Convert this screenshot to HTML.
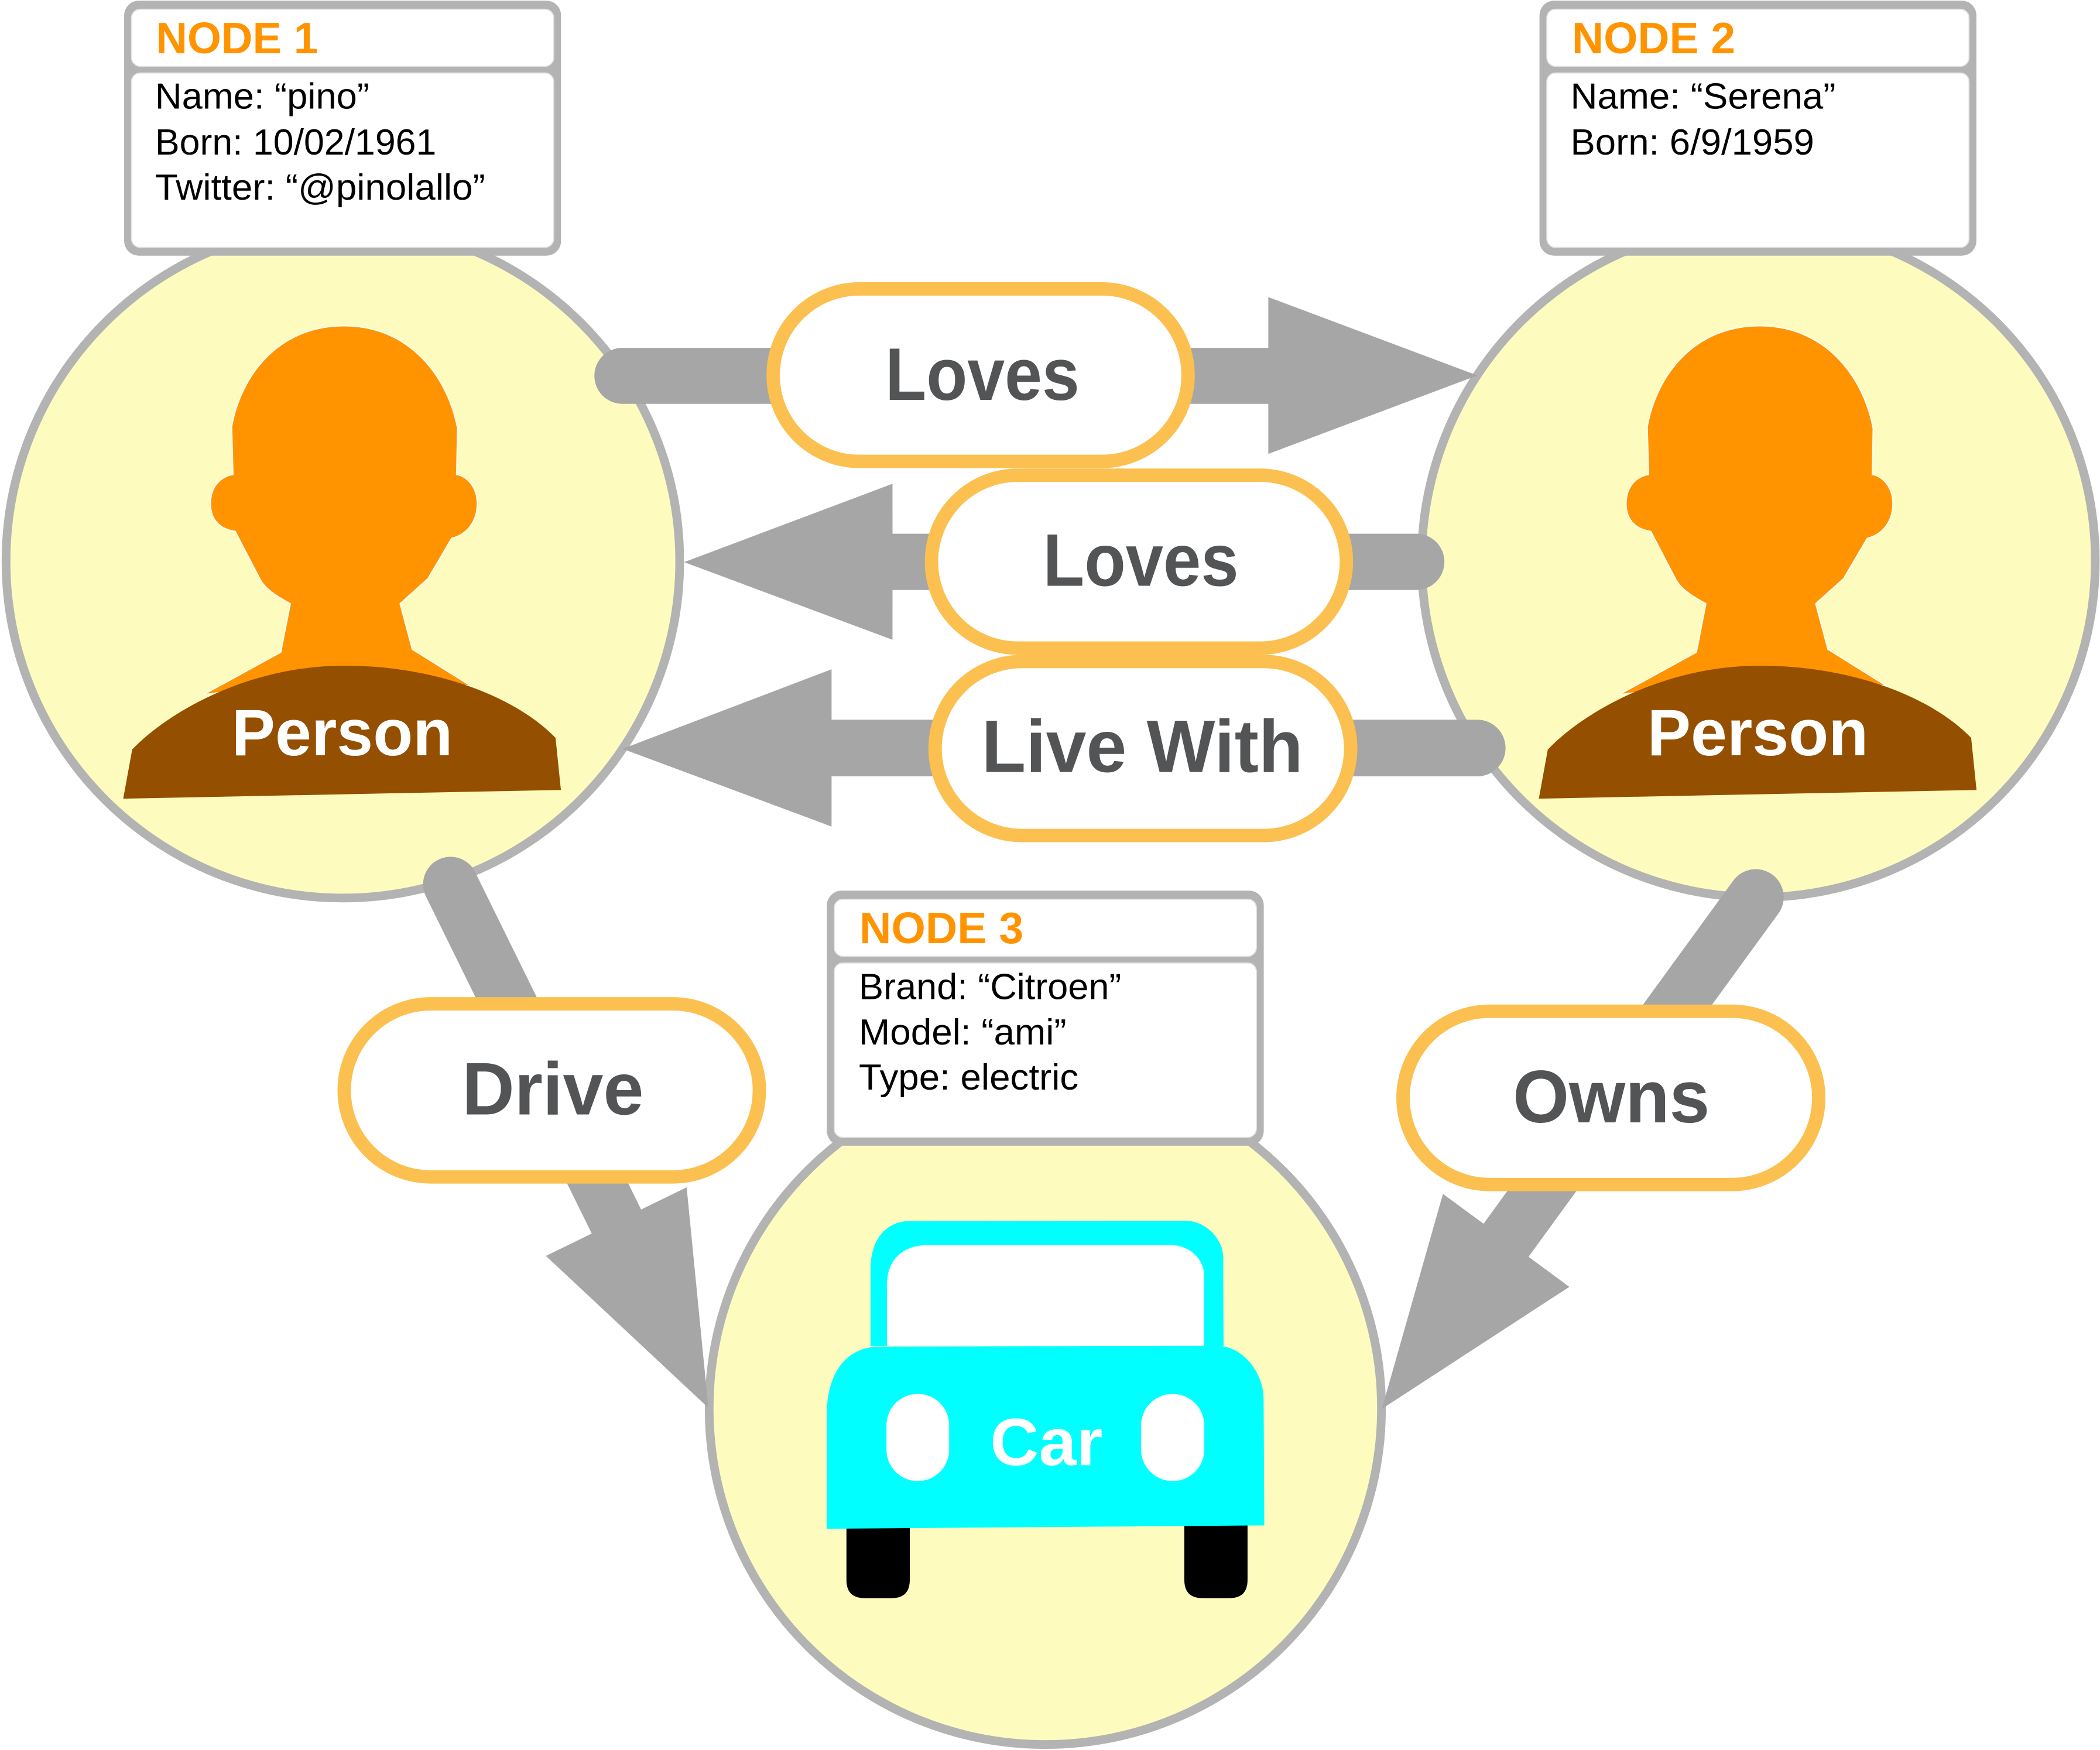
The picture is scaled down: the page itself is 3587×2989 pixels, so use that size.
<!DOCTYPE html>
<html>
<head>
<meta charset="utf-8">
<style>
html,body{margin:0;padding:0;background:#fff;}
svg{display:block;}
text{font-family:"Liberation Sans", Arial, sans-serif;}
</style>
</head>
<body>
<svg xmlns="http://www.w3.org/2000/svg" width="3587" height="2989" viewBox="0 0 1568 1306.6">
  <rect x="0" y="0" width="1568" height="1306.6" fill="#ffffff"/>

  <!-- Circles -->
  <circle cx="256" cy="419" r="251.5" fill="#fdfcbe" stroke="#b3b3b3" stroke-width="6.5"/>
  <circle cx="1313" cy="418.5" r="251.5" fill="#fdfcbe" stroke="#b3b3b3" stroke-width="6.5"/>
  <circle cx="780.5" cy="1051.5" r="251" fill="#fdfcbe" stroke="#b3b3b3" stroke-width="6.5"/>

  <!-- Person 1 -->
  <g id="p1">
    <path d="M173,318.5 C180,280 208,243.3 256.9,243.3 C305,243.3 334,280 341.6,319.8 L340.9,354.3 C350,356 356.3,365 356.3,376 C356.3,389 349,399 337.2,401.9 L319.5,432 L298.7,450.7 L307.8,484.8 L351.3,512 L257,506 L152.2,518.5 L209.7,487 L216.8,450.7 C208,446 198,440 194,432 L175.6,396.7 C164,395 157.2,388 157.2,376 C157.2,364 164,356 174,354.3 Z" fill="#ff9400" stroke="#ffffff" stroke-width="0.8"/>
    <path d="M92,596.3 L98.7,559.6 C125,532 185,497 257,497 C325,497 385,520 414.8,550.9 L418.8,589.8 Z" fill="#944f00"/>
    <text x="173" y="564" font-size="49" font-weight="bold" fill="#ffffff" textLength="165" lengthAdjust="spacingAndGlyphs">Person</text>
  </g>
  <!-- Person 2 -->
  <g transform="translate(1057,0)">
    <path d="M173,318.5 C180,280 208,243.3 256.9,243.3 C305,243.3 334,280 341.6,319.8 L340.9,354.3 C350,356 356.3,365 356.3,376 C356.3,389 349,399 337.2,401.9 L319.5,432 L298.7,450.7 L307.8,484.8 L351.3,512 L257,506 L152.2,518.5 L209.7,487 L216.8,450.7 C208,446 198,440 194,432 L175.6,396.7 C164,395 157.2,388 157.2,376 C157.2,364 164,356 174,354.3 Z" fill="#ff9400" stroke="#ffffff" stroke-width="0.8"/>
    <path d="M92,596.3 L98.7,559.6 C125,532 185,497 257,497 C325,497 385,520 414.8,550.9 L418.8,589.8 Z" fill="#944f00"/>
    <text x="173" y="564" font-size="49" font-weight="bold" fill="#ffffff" textLength="165" lengthAdjust="spacingAndGlyphs">Person</text>
  </g>

  <!-- Car -->
  <g>
    <path d="M650,1005 L650,947.4 C650,925 662,911.7 679.1,911.7 L885.4,911.5 C900,911.5 913.3,925 913.3,938.5 L913.6,1005 Z" fill="#00ffff"/>
    <path d="M662.3,1005 L662.3,958.6 C662.3,940 675,929.6 692.4,929.6 L874.2,929.6 C888,929.6 899,940 899,951.9 L899,1005 Z" fill="#ffffff"/>
    <path d="M632,1130 L679.3,1130 L679.3,1179.6 Q679.3,1193.2 665.7,1193.2 L645.6,1193.2 Q632,1193.2 632,1179.6 Z" fill="#000000"/>
    <path d="M884.3,1130 L931.5,1130 L931.5,1179.6 Q931.5,1193.2 917.9,1193.2 L897.9,1193.2 Q884.3,1193.2 884.3,1179.6 Z" fill="#000000"/>
    <path d="M617.3,1141.4 L617.3,1056.7 C617.3,1025 632,1005.4 656.8,1005.4 L908.8,1004.8 C928,1004.8 943.5,1025 943.5,1044.4 L944,1138.9 Z" fill="#00ffff"/>
    <rect x="661.9" y="1040.7" width="46.8" height="65.1" rx="23.4" ry="23.4" fill="#ffffff"/>
    <rect x="852" y="1040.7" width="47.2" height="65.1" rx="23.6" ry="23.6" fill="#ffffff"/>
    <text x="739.3" y="1094" font-size="50" font-weight="bold" fill="#ffffff" textLength="84" lengthAdjust="spacingAndGlyphs">Car</text>
  </g>

  <!-- Connector bars -->
  <g stroke="#a6a6a6" stroke-linecap="round" fill="none">
    <line x1="464.7" y1="280.6" x2="955" y2="280.6" stroke-width="41.8"/>
    <line x1="660" y1="419.5" x2="1057.5" y2="419.5" stroke-width="42"/>
    <line x1="615" y1="558.5" x2="1103" y2="558.5" stroke-width="42.3"/>
    <line x1="336.4" y1="660.2" x2="460" y2="911.5" stroke-width="41"/>
    <line x1="1311" y1="669.8" x2="1124.35" y2="926.25" stroke-width="41.7"/>
  </g>
  <!-- Arrowheads -->
  <g fill="#a6a6a6">
    <polygon points="947,221.8 947,338.9 1103.1,280.3"/>
    <polygon points="666.4,361.2 666.4,477.7 510.8,419.7"/>
    <polygon points="620.9,499.7 620.9,617.1 464.8,559.1"/>
    <polygon points="407.6,937.7 512.7,886.5 528.9,1051.1"/>
    <polygon points="1077.4,891.4 1171.8,960.8 1031.8,1051.9"/>
  </g>

  <!-- Pills -->
  <g fill="#ffffff" stroke="#fbc04f" stroke-width="10">
    <rect x="577.3" y="215.7" width="309.8" height="128.8" rx="64.4" ry="64.4"/>
    <rect x="695.5" y="354.8" width="309.8" height="129.1" rx="64.5" ry="64.5"/>
    <rect x="698.2" y="493.9" width="310.3" height="129.9" rx="65" ry="65"/>
    <rect x="257" y="749.5" width="310" height="129.2" rx="64.6" ry="64.6"/>
    <rect x="1047.6" y="755" width="310.4" height="129.4" rx="64.7" ry="64.7"/>
  </g>
  <g font-weight="bold" fill="#535456" font-size="55.5">
    <text x="661" y="298.5" textLength="145" lengthAdjust="spacingAndGlyphs">Loves</text>
    <text x="778.8" y="437.3" textLength="146" lengthAdjust="spacingAndGlyphs">Loves</text>
    <text x="732.9" y="576.4" textLength="240" lengthAdjust="spacingAndGlyphs">Live With</text>
    <text x="345" y="832" textLength="135.6" lengthAdjust="spacingAndGlyphs">Drive</text>
    <text x="1129.6" y="837.9" textLength="147" lengthAdjust="spacingAndGlyphs">Owns</text>
  </g>

  <!-- Node 1 box -->
  <g transform="translate(92.7,0.5)">
    <rect x="0" y="0" width="326.2" height="190.4" rx="11" ry="11" fill="#b3b3b3"/>
    <rect x="5.5" y="6.4" width="315.2" height="42.6" rx="6.5" ry="6.5" fill="#ffffff" stroke="#e4e4e4" stroke-width="0.8"/>
    <rect x="5.5" y="54" width="315.2" height="130.2" rx="6.5" ry="6.5" fill="#ffffff" stroke="#e4e4e4" stroke-width="0.8"/>
    <text x="23.7" y="39.3" font-size="33" font-weight="bold" fill="#ff9400" textLength="121" lengthAdjust="spacingAndGlyphs">NODE 1</text>
    <g font-size="27" fill="#000000">
      <text x="23.1" y="80.5" textLength="160" lengthAdjust="spacingAndGlyphs">Name: “pino”</text>
      <text x="23.1" y="114.8" textLength="210" lengthAdjust="spacingAndGlyphs">Born: 10/02/1961</text>
      <text x="23.1" y="148.6" textLength="246.5" lengthAdjust="spacingAndGlyphs">Twitter: “@pinolallo”</text>
    </g>
  </g>

  <!-- Node 2 box -->
  <g transform="translate(1149.5,0.5)">
    <rect x="0" y="0" width="326.2" height="190.4" rx="11" ry="11" fill="#b3b3b3"/>
    <rect x="5.5" y="6.4" width="315.2" height="42.6" rx="6.5" ry="6.5" fill="#ffffff" stroke="#e4e4e4" stroke-width="0.8"/>
    <rect x="5.5" y="54" width="315.2" height="130.2" rx="6.5" ry="6.5" fill="#ffffff" stroke="#e4e4e4" stroke-width="0.8"/>
    <text x="24.2" y="39.3" font-size="33" font-weight="bold" fill="#ff9400" textLength="122" lengthAdjust="spacingAndGlyphs">NODE 2</text>
    <g font-size="27" fill="#000000">
      <text x="23.1" y="80.5" textLength="198" lengthAdjust="spacingAndGlyphs">Name: “Serena”</text>
      <text x="23.1" y="114.8" textLength="182" lengthAdjust="spacingAndGlyphs">Born: 6/9/1959</text>
    </g>
  </g>

  <!-- Node 3 box -->
  <g transform="translate(617.4,665)">
    <rect x="0" y="0" width="326.2" height="190.4" rx="11" ry="11" fill="#b3b3b3"/>
    <rect x="5.5" y="6.4" width="315.2" height="42.6" rx="6.5" ry="6.5" fill="#ffffff" stroke="#e4e4e4" stroke-width="0.8"/>
    <rect x="5.5" y="54" width="315.2" height="130.2" rx="6.5" ry="6.5" fill="#ffffff" stroke="#e4e4e4" stroke-width="0.8"/>
    <text x="24.3" y="39.2" font-size="33" font-weight="bold" fill="#ff9400" textLength="122.5" lengthAdjust="spacingAndGlyphs">NODE 3</text>
    <g font-size="27" fill="#000000">
      <text x="23.9" y="81" textLength="196" lengthAdjust="spacingAndGlyphs">Brand: “Citroen”</text>
      <text x="23.9" y="114.9" textLength="155" lengthAdjust="spacingAndGlyphs">Model: “ami”</text>
      <text x="23.9" y="148.5" textLength="164" lengthAdjust="spacingAndGlyphs">Type: electric</text>
    </g>
  </g>
</svg>
</body>
</html>
